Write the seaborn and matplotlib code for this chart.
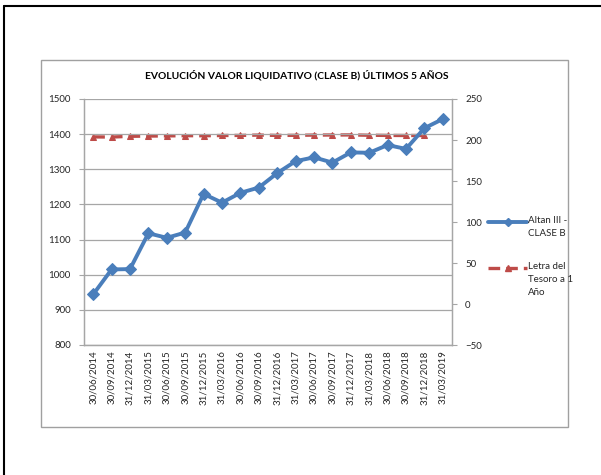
import matplotlib
matplotlib.use("Agg")
import matplotlib.pyplot as plt
from matplotlib.lines import Line2D
from matplotlib.patches import Rectangle
import numpy as np
import pandas as pd
import seaborn as sns

# Quarter-end dates
fechas = ["30/06/2014", "30/09/2014", "31/12/2014", "31/03/2015", "30/06/2015",
          "30/09/2015", "31/12/2015", "31/03/2016", "30/06/2016", "30/09/2016",
          "31/12/2016", "31/03/2017", "30/06/2017", "30/09/2017", "31/12/2017",
          "31/03/2018", "30/06/2018", "30/09/2018", "31/12/2018", "31/03/2019"]

# Net asset value, Altan III - Clase B (left axis)
altan = [944, 1015, 1016, 1118, 1105, 1120, 1230, 1205, 1233, 1248,
         1289, 1323, 1334, 1319, 1348, 1347, 1369, 1358, 1417, 1443]

# 1-year Treasury bill reference (right axis); no value for the last quarter
letra = [203.8, 203.6, 204.5, 204.8, 205.0, 205.3, 205.2, 205.5, 205.6, 206.0,
         205.6, 205.7, 206.0, 206.1, 206.2, 205.8, 205.6, 205.5, 205.5, np.nan]

titulo = "EVOLUCIÓN VALOR LIQUIDATIVO (CLASE B) ÚLTIMOS 5 AÑOS"
nombre_altan = "Altan III -\nCLASE B"
nombre_letra = "Letra del\nTesoro a 1\nAño"

sns.set_theme(style="white")
plt.rcParams["font.family"] = ["Lato", "DejaVu Sans"]

BLUE = "#4A7EBB"
RED = "#BE4B48"
GRID = "#A6A6A6"
TXT = "#262626"

df = pd.DataFrame({"pos": np.arange(len(fechas)), "fecha": fechas,
                   "altan": altan, "letra": letra})

W, H = 601, 475
fig = plt.figure(figsize=(W / 100, H / 100), dpi=100)
fig.patch.set_facecolor("white")

# outer page edges (top and left)
fig.add_artist(Line2D([4 / W, 1], [1 - 6 / H, 1 - 6 / H], color="black", lw=1.5))
fig.add_artist(Line2D([4 / W, 4 / W], [0, 1 - 6 / H], color="black", lw=1.5))
# chart frame
fig.add_artist(Rectangle((41 / W, 1 - 427 / H), (568 - 41) / W, (427 - 60) / H,
                         transform=fig.transFigure, fill=False,
                         edgecolor="#A0A0A0", lw=1.0))

ax = fig.add_axes([84 / W, 1 - 345 / H, (452 - 84) / W, (345 - 99) / H])
ax2 = ax.twinx()

sns.lineplot(data=df, x="pos", y="altan", ax=ax, color=BLUE, lw=2.8,
             marker="D", markersize=6.5, markeredgecolor=BLUE, zorder=5)
sns.lineplot(data=df, x="pos", y="letra", ax=ax2, color=RED, lw=2.4,
             marker="^", markersize=4.5, markeredgecolor=RED,
             dashes=False, zorder=4)
ax2.lines[0].set_linestyle((0, (3.5, 1.8)))
ax.set_zorder(ax2.get_zorder() + 1)
ax.patch.set_visible(False)

ax.set_xlim(-0.5, len(fechas) - 0.5)
ax.set_ylim(800, 1500)
ax.set_yticks(np.arange(800, 1501, 100))
ax2.set_ylim(-50, 250)
ax2.set_yticks(np.arange(-50, 251, 50))

ax.set_xticks(df["pos"])
ax.set_xticklabels(fechas, rotation=90, fontsize=7, color=TXT)
ax.set_xticks(np.arange(-0.5, len(fechas), 1), minor=True)
ax.tick_params(axis="x", which="major", length=0, pad=4)
ax.tick_params(axis="x", which="minor", length=3.5, width=0.8, color=GRID,
               direction="out")
ax.tick_params(axis="y", length=3.5, width=0.8, color=GRID, labelsize=7,
               labelcolor=TXT, pad=6, direction="out", left=True)
ax2.tick_params(axis="y", length=3.5, width=0.8, color=GRID, labelsize=7,
                labelcolor=TXT, pad=6, direction="out", right=True)

ax.grid(axis="y", color=GRID, lw=0.9)
ax.grid(axis="x", visible=False)
ax2.grid(False)
ax.set_xlabel("")
ax.set_ylabel("")
ax2.set_ylabel("")

for a in (ax, ax2):
    a.spines["top"].set_visible(False)
    for s in ("left", "right", "bottom"):
        a.spines[s].set_color(GRID)
        a.spines[s].set_linewidth(0.9)

fig.text(297 / W, 1 - 75 / H, titulo, ha="center", va="center",
         fontsize=7.4, fontweight="bold", color="black")

# legend keys
y1 = 1 - 222 / H
fig.add_artist(Line2D([488 / W, 527 / W], [y1, y1], color=BLUE, lw=2.8))
fig.add_artist(Line2D([507.5 / W], [y1], color=BLUE, marker="D", markersize=4))
fig.text(528 / W, 1 - 216 / H, nombre_altan, ha="left", va="top", fontsize=7,
         color=TXT, linespacing=1.55)
y2 = 1 - 268 / H
fig.add_artist(Line2D([488 / W, 527 / W], [y2, y2], color=RED, lw=2.4,
                      linestyle=(0, (3.5, 1.8))))
fig.add_artist(Line2D([507.5 / W], [y2], color=RED, marker="^", markersize=4))
fig.text(528 / W, 1 - 262 / H, nombre_letra, ha="left", va="top", fontsize=7,
         color=TXT, linespacing=1.55)

fig.savefig("out.png", dpi=100, facecolor="white")
